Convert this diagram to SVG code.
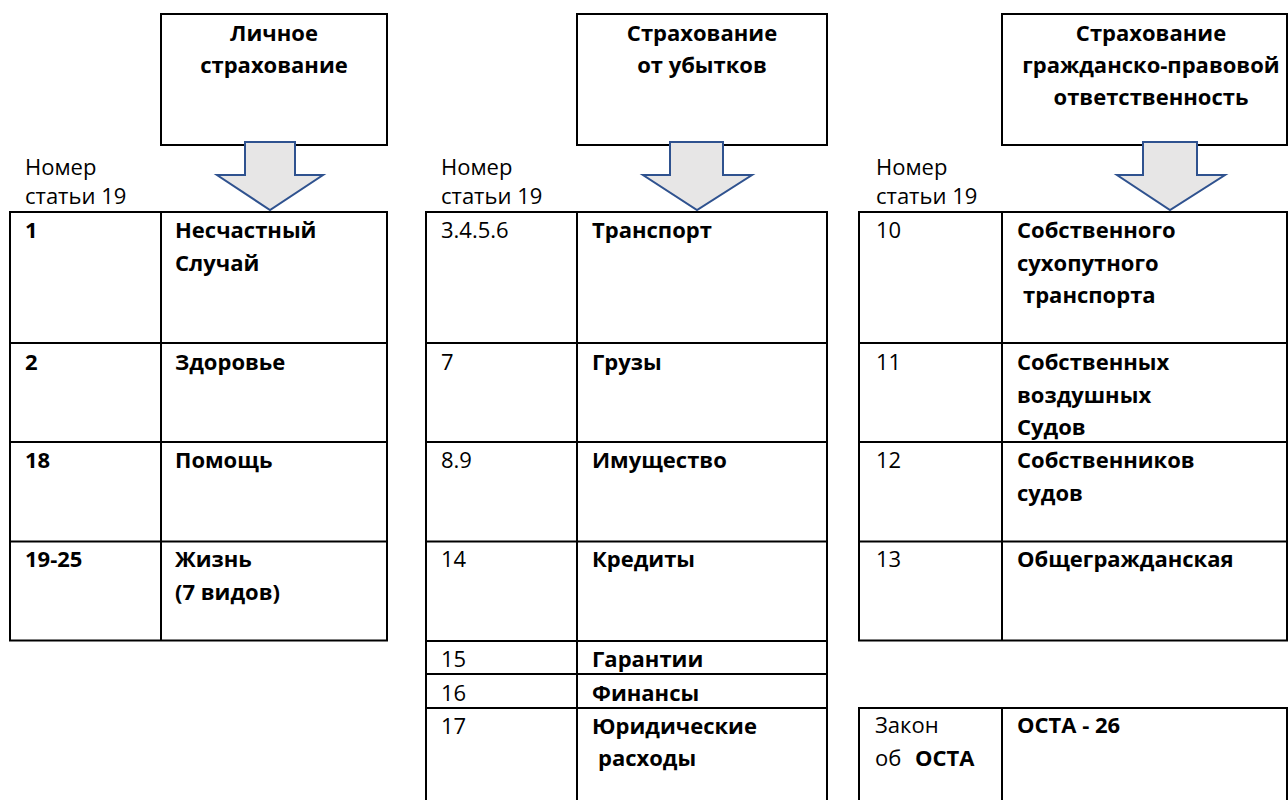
<svg xmlns="http://www.w3.org/2000/svg" width="1288" height="800" viewBox="0 0 1288 800">
<style>
.bg{fill:#ffffff}
.box{fill:#ffffff;stroke:#000000;stroke-width:2}
.ln{stroke:#000000;stroke-width:2;fill:none}
.arr{fill:#E7E6E6;stroke:#2F528F;stroke-width:2;stroke-linejoin:miter}
text{font-family:"Open Sans","Noto Sans","DejaVu Sans",sans-serif;font-size:22px;fill:#000000}
.b{font-weight:bold}
.c{text-anchor:middle}
</style>
<rect class="bg" x="0" y="0" width="1288" height="800"/>

<g id="header-personal">
<rect class="box" x="161" y="14" width="226" height="131"/>
<text class="b c" x="274" y="41">Личное</text>
<text class="b c" x="274" y="73">страхование</text>
</g>
<g id="header-property">
<rect class="box" x="577" y="14" width="250" height="131"/>
<text class="b c" x="702" y="41">Страхование</text>
<text class="b c" x="702" y="73">от убытков</text>
</g>
<g id="header-liability">
<rect class="box" x="1002" y="14" width="285" height="131"/>
<text class="b c" x="1151" y="41">Страхование</text>
<text class="b c" x="1151" y="73">гражданско-правовой</text>
<text class="b c" x="1151" y="105">ответственность</text>
</g>

<g id="connectors">
<path class="arr" d="M245,142 L295,142 L295,175 L323,175 L270,210 L217,175 L245,175 Z"/>
<path class="arr" d="M670,142 L723,142 L723,175 L752,175 L697,210 L643,175 L670,175 Z"/>
<path class="arr" d="M1143,142 L1197,142 L1197,175 L1225,175 L1170,210 L1117,175 L1143,175 Z"/>
</g>

<g id="label-left">
<text x="25" y="175">Номер</text>
<text x="25" y="204">статьи 19</text>
</g>
<g id="label-middle">
<text x="441" y="175">Номер</text>
<text x="441" y="204">статьи 19</text>
</g>
<g id="label-right">
<text x="876" y="175">Номер</text>
<text x="876" y="204">статьи 19</text>
</g>

<g id="table-personal">
<rect class="box" x="10" y="212" width="377" height="428.5"/>
<line class="ln" x1="161" y1="212" x2="161" y2="640.5"/>
<line class="ln" x1="10" y1="343" x2="387" y2="343"/>
<line class="ln" x1="10" y1="442" x2="387" y2="442"/>
<line class="ln" x1="10" y1="541.5" x2="387" y2="541.5"/>
<text class="b" x="25" y="238">1</text>
<text class="b" x="175" y="238">Несчастный</text>
<text class="b" x="175" y="271">Случай</text>
<text class="b" x="25" y="370">2</text>
<text class="b" x="175" y="370">Здоровье</text>
<text class="b" x="25" y="468">18</text>
<text class="b" x="175" y="468">Помощь</text>
<text class="b" x="25" y="567">19-25</text>
<text class="b" x="175" y="567">Жизнь</text>
<text class="b" x="175" y="600">(7 видов)</text>
</g>

<g id="table-property">
<rect class="box" x="426" y="212" width="401" height="600"/>
<line class="ln" x1="577" y1="212" x2="577" y2="812"/>
<line class="ln" x1="426" y1="343" x2="827" y2="343"/>
<line class="ln" x1="426" y1="442" x2="827" y2="442"/>
<line class="ln" x1="426" y1="541.5" x2="827" y2="541.5"/>
<line class="ln" x1="426" y1="641" x2="827" y2="641"/>
<line class="ln" x1="426" y1="674" x2="827" y2="674"/>
<line class="ln" x1="426" y1="708" x2="827" y2="708"/>
<text x="441" y="238">3.4.5.6</text>
<text class="b" x="592" y="238">Транспорт</text>
<text x="441" y="370">7</text>
<text class="b" x="592" y="370">Грузы</text>
<text x="441" y="468">8.9</text>
<text class="b" x="592" y="468">Имущество</text>
<text x="441" y="567">14</text>
<text class="b" x="592" y="567">Кредиты</text>
<text x="441" y="667">15</text>
<text class="b" x="592" y="667">Гарантии</text>
<text x="441" y="701">16</text>
<text class="b" x="592" y="701">Финансы</text>
<text x="441" y="734">17</text>
<text class="b" x="592" y="734">Юридические</text>
<text class="b" x="598" y="766">расходы</text>
</g>

<g id="table-liability">
<rect class="box" x="859" y="212" width="428" height="428.5"/>
<line class="ln" x1="1002" y1="212" x2="1002" y2="640.5"/>
<line class="ln" x1="859" y1="343" x2="1287" y2="343"/>
<line class="ln" x1="859" y1="442" x2="1287" y2="442"/>
<line class="ln" x1="859" y1="541.5" x2="1287" y2="541.5"/>
<text x="876" y="238">10</text>
<text class="b" x="1017" y="238">Собственного</text>
<text class="b" x="1017" y="271">сухопутного</text>
<text class="b" x="1023" y="303">транспорта</text>
<text x="876" y="370">11</text>
<text class="b" x="1017" y="370">Собственных</text>
<text class="b" x="1017" y="403">воздушных</text>
<text class="b" x="1017" y="435">Судов</text>
<text x="876" y="468">12</text>
<text class="b" x="1017" y="468">Собственников</text>
<text class="b" x="1017" y="501">судов</text>
<text x="876" y="567">13</text>
<text class="b" x="1017" y="567">Общегражданская</text>
</g>

<g id="table-osta">
<rect class="box" x="859" y="708" width="428" height="104"/>
<line class="ln" x1="1002" y1="708" x2="1002" y2="812"/>
<text x="875" y="733">Закон</text>
<text x="875" y="766">об <tspan class="b" x="915">ОСТА</tspan></text>
<text class="b" x="1017" y="733">ОСТА - 26</text>
</g>
</svg>
